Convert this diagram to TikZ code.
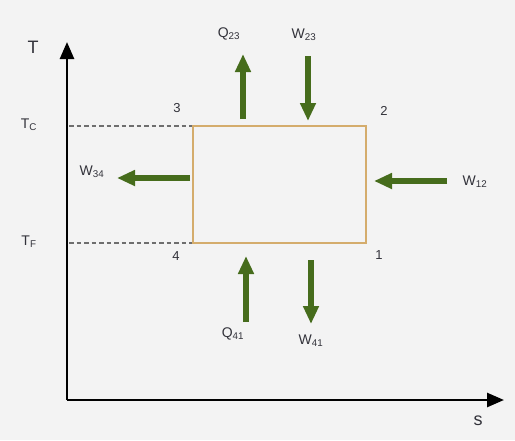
\documentclass[tikz,border=0pt]{standalone}
\usepackage{fontspec}
\setmainfont{Liberation Sans}
\usetikzlibrary{arrows.meta}
\definecolor{bgc}{RGB}{243,243,243}
\definecolor{cyclec}{RGB}{212,172,108}
\definecolor{flowc}{RGB}{70,108,28}
\definecolor{txtc}{RGB}{50,50,58}
\definecolor{dashc}{RGB}{110,110,110}
\begin{document}
\begin{tikzpicture}[x=1pt,y=-1pt,
  axis/.style={line width=2.6pt,black,-{Triangle[width=14pt,length=17pt]}},
  cycle/.style={draw=cyclec,line width=2.5pt},
  guide/.style={dashc,line width=1.4pt,dash pattern=on 4.5pt off 3pt},
  flow/.style={line width=6pt,flowc,-{Triangle[width=15pt,length=18pt]}},
  lbl/.style={inner sep=0pt,text=txtc,font=\fontsize{14}{16}\selectfont},
  big/.style={inner sep=0pt,text=txtc,font=\fontsize{18}{21}\selectfont},
  num/.style={inner sep=0pt,text=txtc,font=\fontsize{13}{15}\selectfont}]
\useasboundingbox (0,0) rectangle (515,440);
\fill[bgc] (0,0) rectangle (515,440);

% axes
\coordinate (O) at (67,400);
\coordinate (Ttip) at (67,42);
\coordinate (stip) at (504,400);
\draw[axis] (O) -- (Ttip);
\draw[axis] (O) -- (stip);
\node[big] (T) at (33,47) {T};
\node[big] (s) at (478,421) {s};

% cycle corners
\coordinate (p1) at (366,243);
\coordinate (p2) at (366,126);
\coordinate (p3) at (193,126);
\coordinate (p4) at (193,243);
\coordinate (tc) at (69,126);
\coordinate (tf) at (69,243);
\draw[guide] (tc) -- (p3);
\draw[guide] (tf) -- (p4);
\draw[cycle] (p1) -- (p2) -- (p3) -- (p4) -- cycle;

\node[lbl] (TC) at (29,125) {T\textsubscript{C}};
\node[lbl] (TF) at (29,242) {T\textsubscript{F}};
\node[num] (n3) at (177,108) {3};
\node[num] (n2) at (384,111) {2};
\node[num] (n4) at (176,256) {4};
\node[num] (n1) at (379,255) {1};

% heat and work flows
\coordinate (q23a) at (243,119); \coordinate (q23b) at (243,54);
\coordinate (w23a) at (308,56);  \coordinate (w23b) at (308,121);
\coordinate (w34a) at (190,178); \coordinate (w34b) at (117,178);
\coordinate (w12a) at (447,181); \coordinate (w12b) at (374,181);
\coordinate (q41a) at (246,322); \coordinate (q41b) at (246,256);
\coordinate (w41a) at (311,260); \coordinate (w41b) at (311,324);
\draw[flow] (q23a) -- (q23b);
\draw[flow] (w23a) -- (w23b);
\draw[flow] (w34a) -- (w34b);
\draw[flow] (w12a) -- (w12b);
\draw[flow] (q41a) -- (q41b);
\draw[flow] (w41a) -- (w41b);

\node[lbl] (Q23) at (229,34) {Q\textsubscript{23}};
\node[lbl] (W23) at (304,35) {W\textsubscript{23}};
\node[lbl] (W34) at (92,172) {W\textsubscript{34}};
\node[lbl] (W12) at (475,182) {W\textsubscript{12}};
\node[lbl] (Q41) at (233,334) {Q\textsubscript{41}};
\node[lbl] (W41) at (311,341) {W\textsubscript{41}};
\end{tikzpicture}
\end{document}
